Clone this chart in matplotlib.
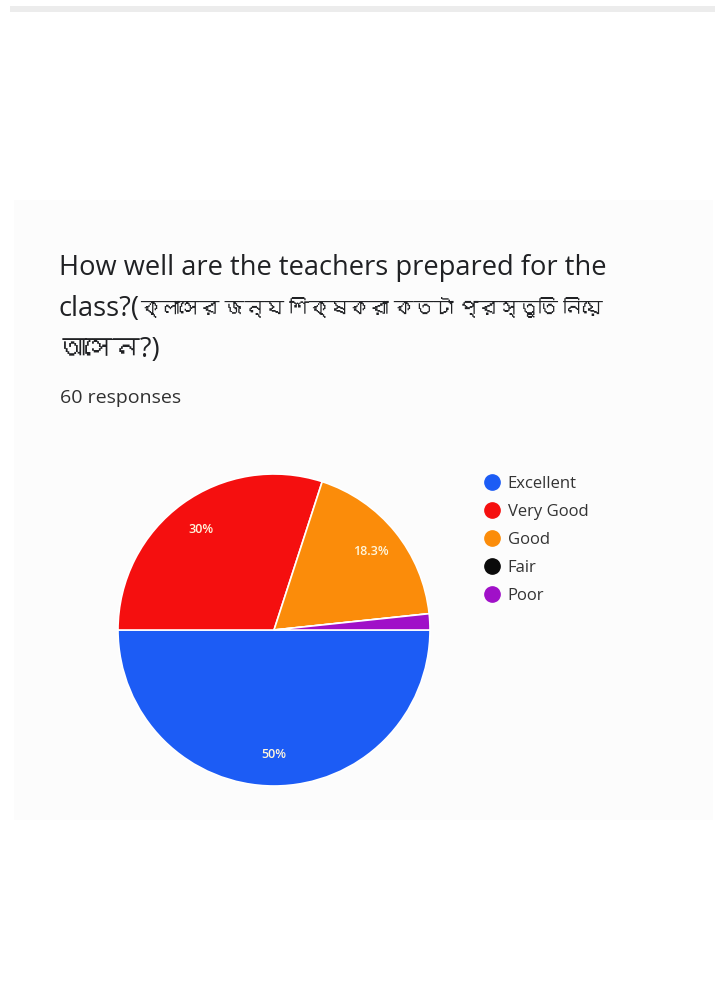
import matplotlib
matplotlib.use("Agg")
import matplotlib.pyplot as plt
from matplotlib.patches import Rectangle
from matplotlib.lines import Line2D
from matplotlib import font_manager, ft2font

categories = ["Excellent", "Very Good", "Good", "Fair", "Poor"]
counts = [30, 18, 11, 0, 1]
pct_labels = ["50%", "30%", "18.3%", "", ""]
colors = ["#1c5cf5", "#f50f0f", "#fb8c0a", "#0a0a0a", "#a010c8"]
title_line1 = "How well are the teachers prepared for the"
title_line2a = "class?("
title_line2b = "ক্লাসের জন্য শিক্ষকরা কতটা প্রস্তুতি নিয়ে"
title_line3 = "আসেন?)"
subtitle = "60 responses"

# find a font with Bengali glyphs, if any
beng = []
for f in font_manager.fontManager.ttflist:
    try:
        ft = ft2font.FT2Font(f.fname)
        if 0x0995 in ft.get_charmap():
            if f.name not in beng:
                beng.append(f.name)
    except Exception:
        pass
families = ["Open Sans"] + beng + ["DejaVu Sans"]

W, H = 715, 990
fig = plt.figure(figsize=(W / 100, H / 100), dpi=100)
fig.patch.set_facecolor("white")
renderer = fig.canvas.get_renderer()

def fx(px):
    return px / W

def fy(py):
    return 1 - py / H

# top grey strip and card background
fig.patches.append(Rectangle((fx(10), fy(12)), fx(705), 6 / H, transform=fig.transFigure,
                             facecolor="#ececec", edgecolor="none", zorder=-5))
fig.patches.append(Rectangle((fx(14), fy(820)), fx(699), 620 / H, transform=fig.transFigure,
                             facecolor="#fcfcfc", edgecolor="none", zorder=-5))

TS = 19.6
tcol = "#202124"
fig.text(fx(59), fy(268), title_line1, fontsize=TS, color=tcol,
         family=families, va="center", ha="left")
t2a = fig.text(fx(59), fy(309), title_line2a, fontsize=TS, color=tcol,
               family=families, va="center", ha="left")
x_end = t2a.get_window_extent(renderer).x1
t2b = fig.text(x_end / W, fy(309), title_line2b, fontsize=TS, color=tcol,
               family=families, va="center", ha="left")
w_b = t2b.get_window_extent(renderer).width
target = 605 - x_end
if w_b > target:
    t2b.set_fontsize(TS * target / w_b)
fig.text(fx(59), fy(350), title_line3, fontsize=TS, color=tcol,
         family=families, va="center", ha="left")
fig.text(fx(60), fy(398), subtitle, fontsize=14, color="#303030",
         family=families, va="center", ha="left")

ax = fig.add_axes([fx(118), fy(786), fx(312), 312 / H])
ax.set_zorder(2)
wedges, texts, autotexts = ax.pie(
    counts, colors=colors, startangle=0, counterclock=False,
    autopct=lambda p: "", pctdistance=0.8,
    wedgeprops=dict(edgecolor="white", linewidth=1.2))
ax.set_xlim(-1.0, 1.0)
ax.set_ylim(-1.0, 1.0)
ax.set_aspect("equal")
for at, lab in zip(autotexts, pct_labels):
    at.set_text(lab)
    at.set_color("#fff6dc")
    at.set_fontsize(9)
    at.set_fontweight("semibold")
    at.set_family(families)

handles = [Line2D([0], [0], marker="o", linestyle="none", markersize=11,
                  markerfacecolor=c, markeredgecolor=c) for c in colors]
leg = fig.legend(handles, categories, loc="upper left",
                 bbox_to_anchor=(fx(475), fy(469)), frameon=False,
                 labelspacing=0.72, handletextpad=0.35,
                 handlelength=1.2, borderaxespad=0, labelcolor="#333333",
                 prop={"family": families, "size": 12})

fig.savefig("out.png", dpi=100)
